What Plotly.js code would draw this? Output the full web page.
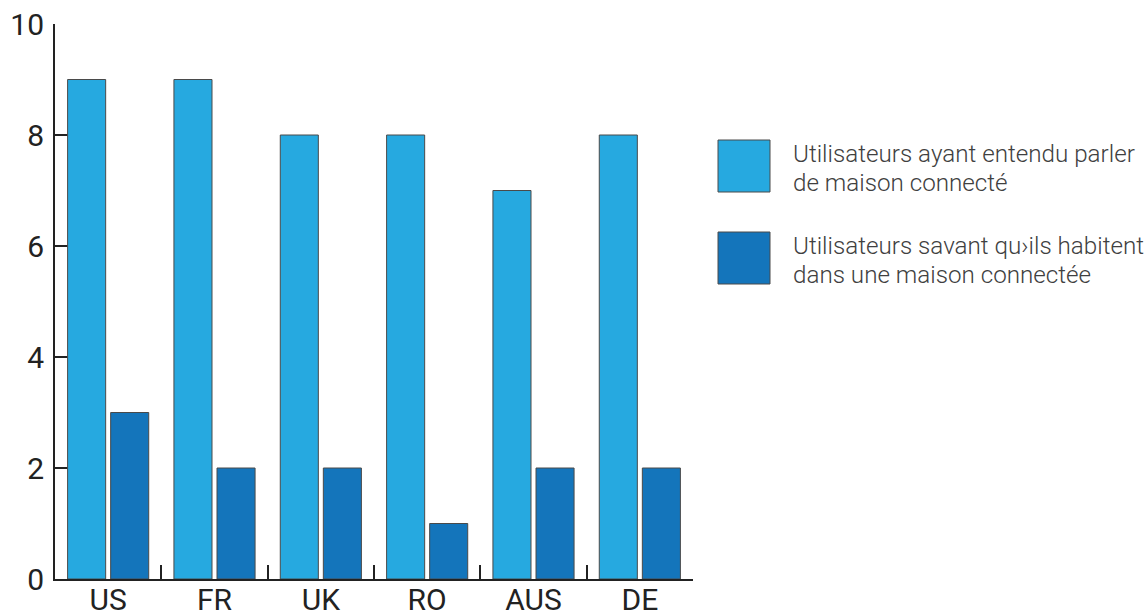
<!DOCTYPE html>
<html>
<head>
<meta charset="utf-8">
<script src="https://cdn.plot.ly/plotly-3.0.1.min.js"></script>
<style>
  html, body { margin: 0; padding: 0; background: #ffffff; }
  #chart { width: 1147px; height: 612px; }
</style>
</head>
<body>
<div id="chart"></div>
<script>
// Pays interrogés
const countries = ['US', 'FR', 'UK', 'RO', 'AUS', 'DE'];

// Utilisateurs ayant entendu parler de maison connectée
const heardOf = [9, 9, 8, 8, 7, 8];

// Utilisateurs sachant qu'ils habitent dans une maison connectée
const knowTheyLive = [3, 2, 2, 1, 2, 2];

const seriesNames = [
  'Utilisateurs ayant entendu parler<br>de maison connecté',
  'Utilisateurs savant qu›ils habitent<br>dans une maison connectée'
];
const seriesColors = ['#26a9e0', '#1475bb'];

const yTicks = [0, 2, 4, 6, 8, 10];

const outline = { color: '#4a4a4a', width: 1 };

const traces = [
  {
    type: 'bar', x: countries, y: heardOf, name: seriesNames[0],
    marker: { color: seriesColors[0], line: outline },
    showlegend: false, hoverinfo: 'x+y'
  },
  {
    type: 'bar', x: countries, y: knowTheyLive, name: seriesNames[1],
    marker: { color: seriesColors[1], line: outline },
    showlegend: false, hoverinfo: 'x+y'
  }
];

// Custom legend: large swatches with two-line labels to the right of the plot
const shapes = [];
const annotations = [];
const legendTop = [140, 232];   // px from top of the figure
const figH = 612, figW = 1147;
const mL = 55, mR = 454, mT = 24, mB = 33;
const plotW = figW - mL - mR, plotH = figH - mT - mB;
const px2x = px => (px - mL) / plotW;
const py2y = py => 1 - (py - mT) / plotH;

seriesNames.forEach((name, i) => {
  const top = legendTop[i];
  shapes.push({
    type: 'rect', xref: 'paper', yref: 'paper',
    x0: px2x(718), x1: px2x(770), y0: py2y(top + 52), y1: py2y(top),
    fillcolor: seriesColors[i], line: { color: '#4a4a4a', width: 1 }
  });
  name.split('<br>').forEach((line, j) => {
    annotations.push({
      xref: 'paper', yref: 'paper',
      x: px2x(791), y: py2y(top + 14 + j * 29),
      xanchor: 'left', yanchor: 'middle',
      text: line, showarrow: false,
      font: { family: 'Roboto, sans-serif', size: 24.2, color: '#404040', weight: 300 }
    });
  });
});

const layout = {
  width: figW, height: figH,
  margin: { l: mL, r: mR, t: mT, b: mB, pad: 0 },
  paper_bgcolor: '#ffffff', plot_bgcolor: '#ffffff',
  font: { family: 'Roboto, sans-serif', color: '#222222' },
  barmode: 'group',
  bargap: 0.19,
  bargroupgap: 0.116,
  showlegend: false,
  xaxis: {
    type: 'category',
    showgrid: false, zeroline: false,
    showline: true, linecolor: '#222222', linewidth: 2,
    ticks: 'inside', tickson: 'boundaries', ticklen: 14, tickwidth: 2, tickcolor: '#222222',
    tickfont: { family: 'Roboto, sans-serif', size: 30, color: '#222222' },
    ticklabelstandoff: -7,
    layer: 'below traces'
  },
  yaxis: {
    range: [0, 10],
    tickvals: yTicks,
    ticktext: yTicks.map(String),
    showgrid: false, zeroline: false,
    showline: true, linecolor: '#222222', linewidth: 2,
    ticks: 'inside', ticklen: 16, tickwidth: 2, tickcolor: '#222222',
    tickfont: { family: 'Roboto, sans-serif', size: 30, color: '#222222' },
    ticklabelstandoff: 3,
    layer: 'below traces'
  },
  shapes: shapes,
  annotations: annotations
};

Plotly.newPlot('chart', traces, layout, { displayModeBar: false, staticPlot: true });
</script>
</body>
</html>
